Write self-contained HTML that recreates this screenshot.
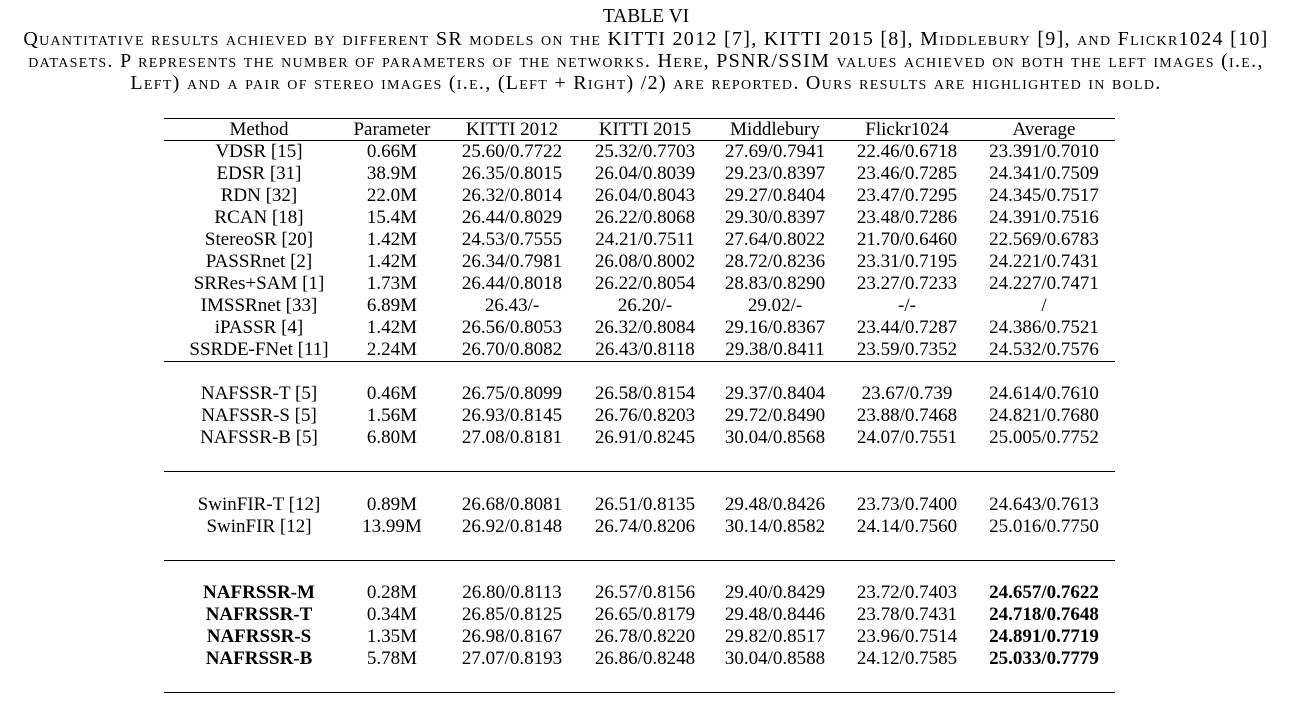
<!DOCTYPE html>
<html><head><meta charset="utf-8">
<style>
body{margin:0;width:1292px;height:720px;background:#fff;position:relative;overflow:hidden;font-family:"Liberation Serif",serif;color:#000}
.t{position:absolute;white-space:nowrap;transform:translateX(-50%);font-size:19px;line-height:22px}
.cap{position:absolute;left:0;width:1292px;text-align:center;font-size:20px;letter-spacing:1.3px;font-variant:small-caps;line-height:22px;white-space:nowrap}
.rule{position:absolute;left:164px;width:951px;height:1px;background:#000}
</style></head><body>
<div class="cap" style="top:6px;font-variant:normal;font-size:19.5px;letter-spacing:0">TABLE VI</div>
<div class="cap" style="top:28px">Quantitative results achieved by different SR models on the KITTI 2012 [7], KITTI 2015 [8], Middlebury [9], and Flickr1024 [10]</div>
<div class="cap" style="top:50px">datasets. P represents the number of parameters of the networks. Here, PSNR/SSIM values achieved on both the left images (i.e.,</div>
<div class="cap" style="top:72px">Left) and a pair of stereo images (i.e., (Left + Right) /2) are reported. Ours results are highlighted in bold.</div>
<div id="tbl"></div>
<script>
const cols=[259,392,512,645,775,907,1044];
const header=["Method","Parameter","KITTI 2012","KITTI 2015","Middlebury","Flickr1024","Average"];
const rows=[
["VDSR [15]","0.66M","25.60/0.7722","25.32/0.7703","27.69/0.7941","22.46/0.6718","23.391/0.7010",150],
["EDSR [31]","38.9M","26.35/0.8015","26.04/0.8039","29.23/0.8397","23.46/0.7285","24.341/0.7509",172],
["RDN [32]","22.0M","26.32/0.8014","26.04/0.8043","29.27/0.8404","23.47/0.7295","24.345/0.7517",194],
["RCAN [18]","15.4M","26.44/0.8029","26.22/0.8068","29.30/0.8397","23.48/0.7286","24.391/0.7516",216],
["StereoSR [20]","1.42M","24.53/0.7555","24.21/0.7511","27.64/0.8022","21.70/0.6460","22.569/0.6783",238],
["PASSRnet [2]","1.42M","26.34/0.7981","26.08/0.8002","28.72/0.8236","23.31/0.7195","24.221/0.7431",260],
["SRRes+SAM [1]","1.73M","26.44/0.8018","26.22/0.8054","28.83/0.8290","23.27/0.7233","24.227/0.7471",282],
["IMSSRnet [33]","6.89M","26.43/-","26.20/-","29.02/-","-/-","/",304],
["iPASSR [4]","1.42M","26.56/0.8053","26.32/0.8084","29.16/0.8367","23.44/0.7287","24.386/0.7521",326],
["SSRDE-FNet [11]","2.24M","26.70/0.8082","26.43/0.8118","29.38/0.8411","23.59/0.7352","24.532/0.7576",348],
["NAFSSR-T [5]","0.46M","26.75/0.8099","26.58/0.8154","29.37/0.8404","23.67/0.739","24.614/0.7610",392],
["NAFSSR-S [5]","1.56M","26.93/0.8145","26.76/0.8203","29.72/0.8490","23.88/0.7468","24.821/0.7680",414],
["NAFSSR-B [5]","6.80M","27.08/0.8181","26.91/0.8245","30.04/0.8568","24.07/0.7551","25.005/0.7752",436],
["SwinFIR-T [12]","0.89M","26.68/0.8081","26.51/0.8135","29.48/0.8426","23.73/0.7400","24.643/0.7613",503],
["SwinFIR [12]","13.99M","26.92/0.8148","26.74/0.8206","30.14/0.8582","24.14/0.7560","25.016/0.7750",525],
["NAFRSSR-M","0.28M","26.80/0.8113","26.57/0.8156","29.40/0.8429","23.72/0.7403","24.657/0.7622",591,1],
["NAFRSSR-T","0.34M","26.85/0.8125","26.65/0.8179","29.48/0.8446","23.78/0.7431","24.718/0.7648",613,1],
["NAFRSSR-S","1.35M","26.98/0.8167","26.78/0.8220","29.82/0.8517","23.96/0.7514","24.891/0.7719",635,1],
["NAFRSSR-B","5.78M","27.07/0.8193","26.86/0.8248","30.04/0.8588","24.12/0.7585","25.033/0.7779",657,1]];
const rules=[118,140,361,471,560,692];
const tb=document.getElementById('tbl');
function cell(txt,x,y,bold){const d=document.createElement('div');d.className='t';d.textContent=txt;d.style.left=x+'px';d.style.top=(y-9)+'px';if(bold)d.style.fontWeight='bold';


tb.appendChild(d);}
header.forEach((h,i)=>cell(h,cols[i],128,0));
rows.forEach(r=>{for(let i=0;i<7;i++)cell(r[i],cols[i],r[7],r[8]&&(i==0||i==6));});
rules.forEach(y=>{const d=document.createElement('div');d.className='rule';d.style.top=y+'px';


tb.appendChild(d);});
</script>
</body></html>
